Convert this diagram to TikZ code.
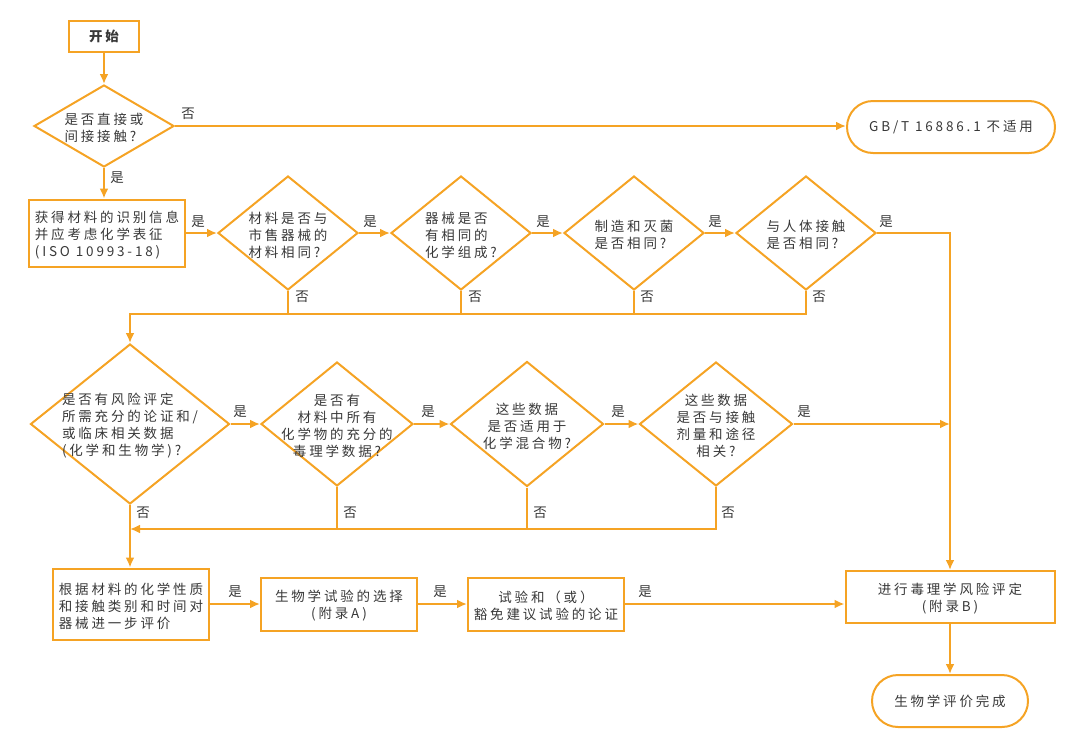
\documentclass[tikz,border=0pt]{standalone}
\usepackage{fontspec}
\setmainfont{Noto Sans CJK SC}[LetterSpace=21]
\usetikzlibrary{shapes.geometric,arrows.meta}
\definecolor{org}{HTML}{F5A324}
\definecolor{txt}{HTML}{383838}
\begin{document}
\begin{tikzpicture}[x=1pt,y=-1pt,
  font=\fontsize{13.5}{17}\selectfont, text=txt,
  rbox/.style={draw=org, line width=2pt, rectangle, inner sep=0pt},
  term/.style={draw=org, line width=2pt, rectangle, rounded corners=26pt, inner sep=0pt, minimum height=52pt},
  dia/.style={draw=org, line width=2pt, diamond, inner sep=0pt},
  tx/.style={yshift=-2pt},
  conn/.style={draw=org, line width=2pt},
  arr/.style={conn, -{Latex[length=10pt,width=9pt]}},
  lbl/.style={inner sep=0pt}]
\useasboundingbox (0,0) rectangle (1080,742);

% ---- nodes ----
\node[rbox, minimum width=70pt, minimum height=31pt, font=\fontsize{13.5}{17}\selectfont\bfseries] (start) at (104,36) {开始};
\node[dia, minimum width=140pt, minimum height=82pt] (d1) at (104,126) {};
\node[tx, align=left] (d1t) at (d1) {是否直接或\\间接接触?};
\node[term, minimum width=208pt] (gb) at (951,127) {GB/T 16886.1 不适用};

\node[rbox, minimum width=156pt, minimum height=67pt] (b1) at (107,233) {};
\node[tx, align=left] (b1t) at (b1) {获得材料的识别信息\\并应考虑化学表征\\(ISO 10993-18)};

\node[dia, minimum width=140pt, minimum height=114pt] (d2) at (288,233) {};
\node[tx, align=left] (d2t) at (d2) {材料是否与\\市售器械的\\材料相同?};
\node[dia, minimum width=140pt, minimum height=114pt] (d3) at (461,233) {};
\node[tx, align=left] (d3t) at (d3) {器械是否\\有相同的\\化学组成?};
\node[dia, minimum width=140pt, minimum height=114pt] (d4) at (634,233) {};
\node[tx, align=left] (d4t) at (d4) {制造和灭菌\\是否相同?};
\node[dia, minimum width=140pt, minimum height=114pt] (d5) at (806,233) {};
\node[tx, align=left] (d5t) at (d5) {与人体接触\\是否相同?};

\node[dia, minimum width=199pt, minimum height=160pt] (d6) at (130,424) {};
\node[tx, align=left] (d6t) at (d6) {是否有风险评定\\所需充分的论证和/\\或临床相关数据\\(化学和生物学)?};
\node[dia, minimum width=152pt, minimum height=124pt] (d7) at (337,424) {};
\node[tx, align=center] (d7t) at (d7) {是否有\\材料中所有\\化学物的充分的\\毒理学数据?};
\node[dia, minimum width=153pt, minimum height=125pt] (d8) at (527,424) {};
\node[tx, align=center] (d8t) at (d8) {这些数据\\是否适用于\\化学混合物?};
\node[dia, minimum width=153pt, minimum height=124pt] (d9) at (716,424) {};
\node[tx, align=center] (d9t) at (d9) {这些数据\\是否与接触\\剂量和途径\\相关?};

\node[rbox, minimum width=156pt, minimum height=71pt] (bA) at (131,604) {};
\node[tx, align=left] (bAt) at (bA) {根据材料的化学性质\\和接触类别和时间对\\器械进一步评价};
\node[rbox, minimum width=156pt, minimum height=53pt] (bB) at (339,604) {};
\node[tx, align=center] (bBt) at (bB) {生物学试验的选择\\(附录A)};
\node[rbox, minimum width=156pt, minimum height=53pt] (bC) at (546,604) {};
\node[tx, align=center] (bCt) at (bC) {试验和（或）\\豁免建议试验的论证};
\node[rbox, minimum width=209pt, minimum height=52pt] (tox) at (950,597) {};
\node[tx, align=center] (toxt) at (tox) {进行毒理学风险评定\\(附录B)};
\node[term, minimum width=156pt] (fin) at (950,701) {生物学评价完成};

\coordinate (n1) at (130,314);
\coordinate (n2) at (130,529);

% ---- connectors ----
\draw[arr] (start) -- (d1);
\draw[arr] (d1.east) -- (d1.east -| gb.west);
\draw[arr] (d1.south) -- (d1.south |- b1.north);
\draw[arr] (b1.east) -- (b1.east -| d2.west);
\draw[arr] (d2) -- (d3);
\draw[arr] (d3) -- (d4);
\draw[arr] (d4) -- (d5);
\draw[arr] (d5.east) -| (tox.north);

\draw[conn] (d2.south) -- (d2.south |- n1);
\draw[conn] (d3.south) -- (d3.south |- n1);
\draw[conn] (d4.south) -- (d4.south |- n1);
\draw[arr] (d5.south) |- (n1) -- (d6.north);

\draw[arr] (d6) -- (d7);
\draw[arr] (d7) -- (d8);
\draw[arr] (d8) -- (d9);
\draw[arr] (d9.east) -- (d9.east -| tox.north);

\draw[conn] (d7.south) -- (d7.south |- n2);
\draw[conn] (d8.south) -- (d8.south |- n2);
\draw[arr] (d9.south) |- (n2);
\draw[arr] (d6.south) -- (d6.south |- bA.north);

\draw[arr] (bA.east) -- (bA.east -| bB.west);
\draw[arr] (bB) -- (bC);
\draw[arr] (bC.east) -- (bC.east -| tox.west);
\draw[arr] (tox) -- (fin);

% ---- labels ----
\node[lbl] (l1) at (188,114) {否};
\node[lbl] (l2) at (117,178) {是};
\node[lbl] (l3) at (198,222) {是};
\node[lbl] (l4) at (370,222) {是};
\node[lbl] (l5) at (543,222) {是};
\node[lbl] (l6) at (715,222) {是};
\node[lbl] (l7) at (886,222) {是};
\node[lbl] (l8) at (302,297) {否};
\node[lbl] (l9) at (475,297) {否};
\node[lbl] (l10) at (647,297) {否};
\node[lbl] (l11) at (819,297) {否};
\node[lbl] (l12) at (240,412) {是};
\node[lbl] (l13) at (428,412) {是};
\node[lbl] (l14) at (618,412) {是};
\node[lbl] (l15) at (804,412) {是};
\node[lbl] (l16) at (143,513) {否};
\node[lbl] (l17) at (350,513) {否};
\node[lbl] (l18) at (540,513) {否};
\node[lbl] (l19) at (728,513) {否};
\node[lbl] (l20) at (235,592) {是};
\node[lbl] (l21) at (440,592) {是};
\node[lbl] (l22) at (645,592) {是};
\end{tikzpicture}
\end{document}
